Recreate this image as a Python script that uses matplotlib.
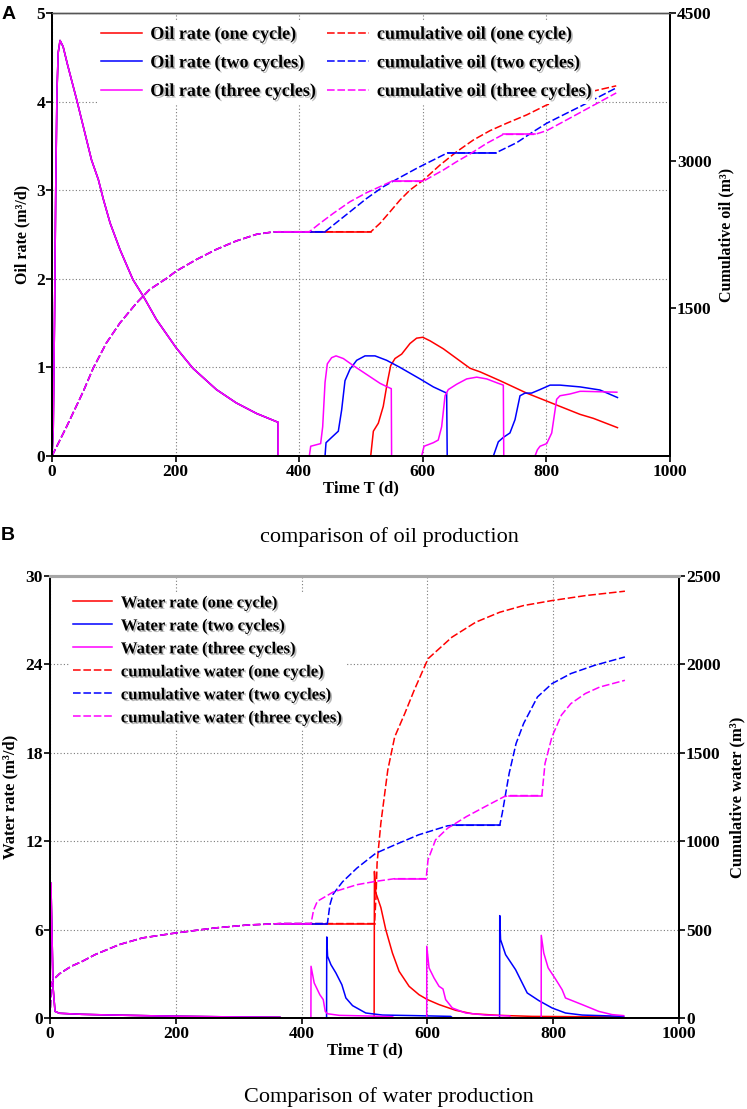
import numpy as np
import matplotlib
matplotlib.use("Agg")
import matplotlib.pyplot as plt
import matplotlib.patheffects as pe

plt.rcParams['font.family'] = ['Liberation Serif', 'DejaVu Serif']
plt.rcParams['font.weight'] = 'bold'
plt.rcParams['axes.labelweight'] = 'bold'

# ---------------- A: oil ----------------
# first cycle, shared by all three cases
t_oil_c1 = [0, 2, 4, 6, 8, 10, 13, 18, 25, 40, 64, 75, 83, 94, 110, 131, 148, 169,
            201, 228, 266, 298, 331, 366]
q_oil_c1 = [0, 0.3, 1.5, 3.0, 4.1, 4.55, 4.69, 4.62, 4.42, 4.02, 3.34, 3.12, 2.9, 2.63,
            2.33, 1.99, 1.80, 1.54, 1.22, 0.99, 0.75, 0.60, 0.48, 0.38]

oil1_t = [366, 515.7, 520, 528, 536, 542.6, 548, 555, 565.8, 579.3, 590, 600, 611.7,
          633.2, 654.8, 676.4, 692.6, 725, 768, 800.5, 822, 854.4, 876, 915]
oil1_q = [0, 0, 0.28, 0.37, 0.56, 0.83, 1.02, 1.10, 1.15, 1.27, 1.33, 1.34, 1.30,
          1.21, 1.10, 0.99, 0.95, 0.85, 0.71, 0.62, 0.56, 0.47, 0.425, 0.32]

oil2_t = [366, 441.8, 443.4, 452.5, 463.3, 468.7, 474.1, 482.2, 493, 506.5, 522.7,
          541.5, 563.1, 595.5, 617, 638.6, 639.5, 714.2, 722.2, 730.3, 741, 749.2,
          757.3, 765.4, 776, 789.7, 805.9, 822, 854.4, 886.7, 915]
oil2_q = [0, 0, 0.15, 0.21, 0.28, 0.52, 0.85, 0.98, 1.08, 1.13, 1.13, 1.08, 1.0, 0.87,
          0.78, 0.71, 0, 0, 0.16, 0.21, 0.26, 0.41, 0.68, 0.71, 0.71, 0.75, 0.80, 0.80,
          0.78, 0.745, 0.66]

oil3_t = [366, 416.4, 418.6, 434.7, 438, 441.8, 445.5, 452.5, 459.6, 471.4, 487.6,
          509.2, 530.8, 542.6, 549, 549.5, 598.2, 602, 617, 625, 630.5, 636, 641.3,
          654.8, 671, 687.2, 703.4, 722.2, 730.3, 731, 781.6, 785.4, 789.7, 800.5,
          808.6, 816.6, 822, 838.2, 854.4, 860, 914]
oil3_q = [0, 0, 0.11, 0.14, 0.33, 0.83, 1.04, 1.11, 1.13, 1.10, 1.02, 0.92, 0.82,
          0.78, 0.76, 0, 0, 0.11, 0.15, 0.18, 0.33, 0.68, 0.75, 0.81, 0.87, 0.89, 0.87,
          0.82, 0.80, 0, 0, 0.07, 0.11, 0.14, 0.26, 0.64, 0.68, 0.70, 0.73, 0.73, 0.72]

cum_oil_c1_t = [0, 23.7, 50.6, 66.8, 88, 110, 137, 158, 185, 201, 234, 266, 298, 331,
                357.6, 366]
cum_oil_c1_v = [0, 299, 656, 894, 1148, 1352, 1556, 1691, 1803, 1878, 1997, 2099,
                2184, 2252, 2276, 2278]

cum_oil1_t = [516, 530.8, 547, 563.1, 579.3, 600.9, 627.9, 654.8, 681.8, 708.8, 735.7,
              768.1, 800.5, 850, 913]
cum_oil1_v = [2278, 2364, 2481, 2600, 2702, 2803, 2956, 3091, 3210, 3305, 3380, 3465,
              3566, 3670, 3760]

cum_oil2_t = [441.8, 455.2, 482.2, 509.2, 536.2, 563.1, 590.1, 617, 638.6, 640, 718,
              752, 778.9, 800.5, 832.8, 854.4, 913]
cum_oil2_v = [2278, 2346, 2481, 2617, 2736, 2830, 2922, 3007, 3075, 3079, 3079, 3183,
              3295, 3380, 3482, 3549, 3739]

cum_oil3_t = [416.4, 433.7, 455.2, 482.2, 509.2, 530.8, 549.6, 600.9, 611.7, 633.2,
              654.8, 676.4, 703.4, 730.3, 781.6, 800.5, 827.4, 854.4, 913]
cum_oil3_v = [2278, 2364, 2465, 2583, 2675, 2736, 2790, 2790, 2830, 2905, 2990, 3068,
              3176, 3267, 3267, 3305, 3396, 3488, 3688]

# ---------------- B: water ----------------
t_w_c1 = [0, 0.8, 1.5, 3, 5, 8, 15, 50, 100, 200, 300, 366]
q_w_c1 = [0, 5, 9.16, 6, 2, 0.45, 0.32, 0.25, 0.2, 0.12, 0.07, 0.05]

w1_t = [366, 515.3, 515.8, 518, 526, 533.8, 544.4, 555, 570.9, 586.7, 600, 618.5, 645,
        671.4, 713.7, 766.6, 912]
w1_q = [0, 0, 9.95, 8.5, 7.5, 6.0, 4.41, 3.17, 2.15, 1.58, 1.25, 0.91, 0.52, 0.29,
        0.18, 0.11, 0.07]

w2_t = [366, 439.7, 440, 441.3, 446.6, 454.5, 464, 470.4, 481, 502, 528.6, 581.5, 637,
        640, 714.8, 715, 716.3, 724.3, 740.2, 750.7, 758.7, 777.2, 798.3, 819.5, 846, 912]
w2_q = [0, 0, 5.5, 4.19, 3.62, 3.06, 2.26, 1.36, 0.84, 0.34, 0.2, 0.16, 0.11, 0, 0,
        6.95, 5.32, 4.3, 3.28, 2.38, 1.70, 1.18, 0.68, 0.34, 0.2, 0.11]

w3_t = [366, 414.8, 415, 420, 429, 434.4, 437.6, 441, 459.8, 502, 544, 548, 598.9, 599,
        602.6, 610.5, 618.5, 624.8, 629, 639.6, 660.8, 692.5, 731, 731.5, 780.9, 781,
        785, 792, 803.6, 814.2, 819.5, 846, 872.4, 893.6, 912]
w3_q = [0, 0, 3.51, 2.38, 1.58, 1.25, 0.45, 0.29, 0.18, 0.14, 0.09, 0, 0, 4.87, 3.4,
        2.72, 2.15, 1.97, 1.25, 0.68, 0.34, 0.2, 0.14, 0, 0, 5.61, 4.41, 3.4, 2.65, 1.92,
        1.36, 0.91, 0.45, 0.23, 0.16]

cum_w_c1_t = [0, 2, 5, 15, 34, 50, 72, 110, 147, 200, 261, 314, 366]
cum_w_c1_v = [0, 190, 215, 250, 293, 318, 359, 415, 453, 481, 509, 526, 534]

cum_w1_t = [516, 518.5, 520, 526, 537, 548, 564, 579, 601, 639, 677, 715, 753, 798,
            851, 914]
cum_w1_v = [534, 700, 876, 1102, 1402, 1590, 1722, 1854, 2032, 2154, 2239, 2295, 2333,
            2361, 2389, 2414]

cum_w2_t = [441, 445, 450, 465, 488, 518, 548, 586, 632, 640, 715, 719, 730, 741, 753,
            775, 798, 828, 866, 914]
cum_w2_v = [534, 640, 700, 770, 848, 932, 979, 1036, 1087, 1090, 1090, 1158, 1384,
            1553, 1666, 1816, 1891, 1948, 1995, 2042]

cum_w3_t = [415, 419, 425, 450, 488, 518, 548, 598, 601, 613, 632, 662, 692, 722, 730,
            782, 787, 798, 813, 828, 851, 874, 914]
cum_w3_v = [534, 610, 660, 712, 754, 773, 788, 788, 895, 1008, 1073, 1139, 1196, 1252,
            1258, 1258, 1440, 1590, 1713, 1778, 1835, 1872, 1910]

colors = ['#ff0000', '#0000ff', '#ff00ff']
names = ['one cycle', 'two cycles', 'three cycles']

W, H = 747, 1109
fig = plt.figure(figsize=(W / 100, H / 100), dpi=100)


def box(l, r, t, b):
    return [l / W, 1 - b / H, (r - l) / W, (b - t) / H]


def plot_cum(ax, t, v, color, label):
    t = np.asarray(t, float)
    v = np.asarray(v, float)
    line, = ax.plot(t, v, color=color, lw=1.1, dashes=(5, 1.8), label=label)
    # flat parts come out solid in the original
    for i in np.flatnonzero(np.diff(v) == 0):
        ax.plot(t[i:i + 2], v[i:i + 2], color=color, lw=1.1)
    return line


def style(ax, axr, top_color):
    for s in ['left', 'bottom', 'right']:
        ax.spines[s].set_linewidth(1.4)
        axr.spines[s].set_linewidth(1.4)
    axr.spines['top'].set_color(top_color)
    ax.spines['top'].set_color(top_color)
    ax.tick_params(axis='y', labelsize=12.5, length=4, width=1.2, pad=1)
    ax.tick_params(axis='x', labelsize=12.5, length=4, width=1.2, pad=2)
    axr.tick_params(labelsize=12.5, length=4, width=1.2, pad=1)
    ax.grid(True, color='#7a7a7a', lw=0.8, linestyle=(0, (1, 2)))
    ax.set_axisbelow(True)
    ax.set_xlim(0, 1000)
    ax.set_xticks([0, 200, 400, 600, 800, 1000])


shadow = [pe.withSimplePatchShadow(offset=(1.2, -1.2), shadow_rgbFace='0.45', alpha=0.5)]

# ---- panel A ----
ax1 = fig.add_axes(box(52, 670, 13, 456))
ax2 = ax1.twinx()
style(ax1, ax2, '#555555')
ax1.spines['top'].set_linewidth(1.0)
ax2.spines['top'].set_linewidth(1.0)

rates = [(oil1_t, oil1_q), (oil2_t, oil2_q), (oil3_t, oil3_q)]
cums = [(cum_oil1_t, cum_oil1_v), (cum_oil2_t, cum_oil2_v), (cum_oil3_t, cum_oil3_v)]
h_rate, h_cum = [], []
for (tt, qq), c, n in zip(rates, colors, names):
    ln, = ax1.plot(t_oil_c1 + tt, q_oil_c1 + qq, color=c, lw=1.1,
                   label='Oil rate (%s)' % n)
    h_rate.append(ln)
for (tt, vv), c, n in zip(cums, colors, names):
    h_cum.append(plot_cum(ax2, cum_oil_c1_t + tt, cum_oil_c1_v + vv, c,
                          'cumulative oil (%s)' % n))

ax1.set_ylim(0, 5)
ax1.set_yticks([0, 1, 2, 3, 4, 5])
ax2.set_ylim(0, 4500)
ax2.set_yticks([1500, 3000, 4500])
ax1.set_xlabel('Time T (d)', fontsize=12, labelpad=0)
ax1.set_ylabel('Oil rate (m³/d)', fontsize=11.5, labelpad=4)
ax2.set_ylabel('Cumulative oil (m³)', fontsize=11.5, labelpad=5)

leg = ax2.legend(h_rate + h_cum, [h.get_label() for h in h_rate + h_cum], ncol=2,
                 loc='upper left', bbox_to_anchor=(97 / W, 1 - 22 / H),
                 bbox_transform=fig.transFigure, frameon=True, fancybox=False,
                 edgecolor='none', facecolor='white', framealpha=1,
                 prop={'size': 13, 'weight': 'bold'}, handlelength=2.3,
                 handletextpad=0.45, columnspacing=0.65, labelspacing=0.62,
                 borderpad=0.2, borderaxespad=0)
for txt in leg.get_texts():
    txt.set_path_effects(shadow)

# ---- panel B ----
ax3 = fig.add_axes(box(50, 679, 576, 1018))
ax4 = ax3.twinx()
style(ax3, ax4, '#a6a6a6')
ax3.spines['top'].set_linewidth(2.2)
ax4.spines['top'].set_linewidth(2.2)
ax3.spines['left'].set_color('#333333')

rates = [(w1_t, w1_q), (w2_t, w2_q), (w3_t, w3_q)]
cums = [(cum_w1_t, cum_w1_v), (cum_w2_t, cum_w2_v), (cum_w3_t, cum_w3_v)]
h_rate, h_cum = [], []
for (tt, qq), c, n in zip(rates, colors, names):
    ln, = ax3.plot(t_w_c1 + tt, q_w_c1 + qq, color=c, lw=1.1,
                   label='Water rate (%s)' % n)
    h_rate.append(ln)
for (tt, vv), c, n in zip(cums, colors, names):
    h_cum.append(plot_cum(ax4, cum_w_c1_t + tt, cum_w_c1_v + vv, c,
                          'cumulative water (%s)' % n))

ax3.set_ylim(0, 30)
ax3.set_yticks([0, 6, 12, 18, 24, 30])
ax4.set_ylim(0, 2500)
ax4.set_yticks([0, 500, 1000, 1500, 2000, 2500])
ax3.set_xlabel('Time T (d)', fontsize=12, labelpad=0)
ax3.set_ylabel('Water rate (m³/d)', fontsize=12, labelpad=5)
ax4.set_ylabel('Cumulative water (m³)', fontsize=12, labelpad=6)

leg = ax4.legend(h_rate + h_cum, [h.get_label() for h in h_rate + h_cum], ncol=1,
                 loc='upper left', bbox_to_anchor=(70 / W, 1 - 592 / H),
                 bbox_transform=fig.transFigure, frameon=True, fancybox=False,
                 edgecolor='none', facecolor='white', framealpha=1,
                 prop={'size': 12, 'weight': 'bold'}, handlelength=2.3,
                 handletextpad=0.55, labelspacing=0.42, borderpad=0.2,
                 borderaxespad=0)
for txt in leg.get_texts():
    txt.set_path_effects(shadow)

# ---- captions and panel letters ----
fig.text(2 / W, 1 - 6 / H, 'A', fontsize=14, fontweight='bold', va='top',
         family='Liberation Sans')
fig.text(1 / W, 1 - 527 / H, 'B', fontsize=14, fontweight='bold', va='top',
         family='Liberation Sans')
fig.text(389 / W, 1 - 537 / H, 'comparison of oil production', fontsize=16,
         fontweight='normal', ha='center', va='center')
fig.text(389 / W, 1 - 1097 / H, 'Comparison of water production', fontsize=16,
         fontweight='normal', ha='center', va='center')

fig.savefig('out.png', dpi=100)
